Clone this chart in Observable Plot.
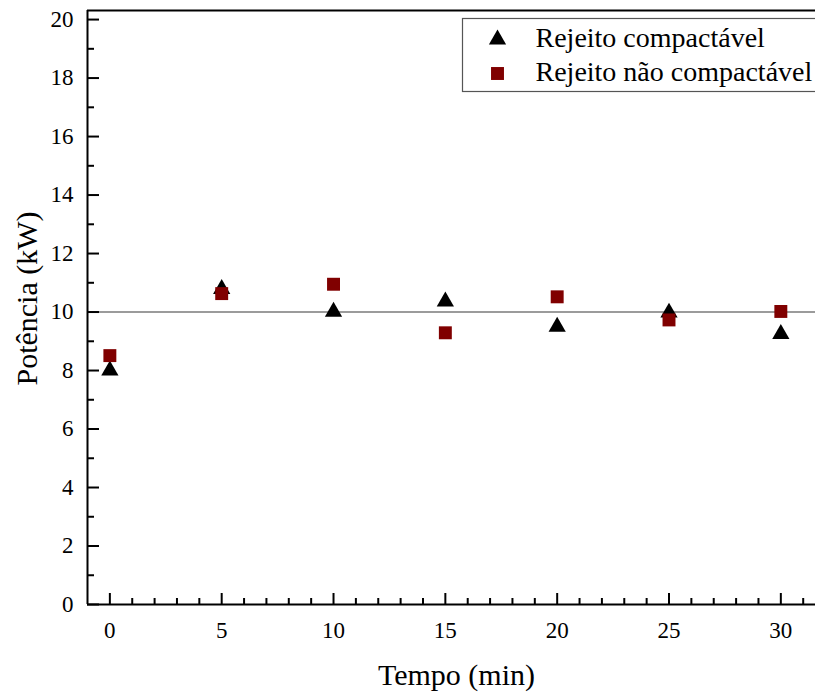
<!DOCTYPE html>
<html>
<head>
<meta charset="utf-8">
<script src="https://cdn.jsdelivr.net/npm/d3@7"></script>
<script src="https://cdn.jsdelivr.net/npm/@observablehq/plot@0.6"></script>
<style>
  html, body { margin: 0; padding: 0; background: #fff; }
  #chart svg { display: block; font-family: "Liberation Serif", "Times New Roman", serif; }
  #chart svg text { font-family: "Liberation Serif", "Times New Roman", serif; }
</style>
</head>
<body>
<div id="chart"></div>
<script>
const tempo = [0, 5, 10, 15, 20, 25, 30];
const compactavel = [8.0, 10.79, 10.01, 10.36, 9.50, 9.98, 9.25];
const naoCompactavel = [8.51, 10.63, 10.95, 9.29, 10.52, 9.73, 10.02];
const seriesNames = ["Rejeito compactável", "Rejeito não compactável"];
const xMajor = [0, 5, 10, 15, 20, 25, 30];
const xMinor = [1, 2, 3, 4, 6, 7, 8, 9, 11, 12, 13, 14, 16, 17, 18, 19, 21, 22, 23, 24, 26, 27, 28, 29, 31];
const yMajor = [0, 2, 4, 6, 8, 10, 12, 14, 16, 18, 20];
const yMinor = [1, 3, 5, 7, 9, 11, 13, 15, 17, 19];
const xDomain = [-1, 31.55];
const yDomain = [0, 20.31];
const referenceValue = [10];
const xTitle = "Tempo (min)";
const yTitle = "Potência (kW)";

const W = 815, H = 692;
const mL = 87, mR = 0, mT = 10, mB = 88;
const pw = W - mL - mR, ph = H - mT - mB;
const FONT = "Liberation Serif, Times New Roman, serif";

const dataA = tempo.map((t, i) => ({t, v: compactavel[i]}));
const dataB = tempo.map((t, i) => ({t, v: naoCompactavel[i]}));

const red = "#800000";

const chart = Plot.plot({
  width: W, height: H,
  marginLeft: mL, marginRight: mR, marginTop: mT, marginBottom: mB,
  style: {fontFamily: FONT, background: "#fff", color: "#000"},
  x: {domain: xDomain, axis: null},
  y: {domain: yDomain, axis: null},
  marks: [
    // reference line
    Plot.ruleY(referenceValue, {stroke: "#7a7a7a", strokeWidth: 1.6}),
    // frame lines
    Plot.ruleX([xDomain[0]], {stroke: "#000", strokeWidth: 2}),
    Plot.ruleY([yDomain[0]], {stroke: "#000", strokeWidth: 2}),
    Plot.ruleY([yDomain[1]], {stroke: "#000", strokeWidth: 2}),
    // inward ticks
    Plot.tickX(xMajor, {x: d => d, insetTop: ph - 11, stroke: "#000", strokeWidth: 2}),
    Plot.tickX(xMinor, {x: d => d, insetTop: ph - 6, stroke: "#000", strokeWidth: 2}),
    Plot.tickY(yMajor, {y: d => d, insetRight: pw - 12, stroke: "#000", strokeWidth: 2}),
    Plot.tickY(yMinor, {y: d => d, insetRight: pw - 7, stroke: "#000", strokeWidth: 2}),
    // tick labels
    Plot.text(xMajor, {x: d => d, frameAnchor: "bottom", lineAnchor: "middle", dy: 26, text: d => String(d), fontSize: 23, fontFamily: FONT, fill: "#000"}),
    Plot.text(yMajor, {y: d => d, frameAnchor: "left", lineAnchor: "middle", dx: -14, textAnchor: "end", text: d => String(d), fontSize: 23, fontFamily: FONT, fill: "#000"}),
    // axis titles
    Plot.text([xTitle], {frameAnchor: "bottom", lineAnchor: "middle", textAnchor: "middle", dx: 5, dy: 71, text: d => d, fontSize: 30, fontFamily: FONT, fill: "#000"}),
    Plot.text([yTitle], {frameAnchor: "left", lineAnchor: "middle", textAnchor: "middle", dx: -60, dy: -9, rotate: -90, text: d => d, fontSize: 30, fontFamily: FONT, fill: "#000"}),
    // data
    Plot.dot(dataA, {x: "t", y: "v", symbol: "triangle", r: 6.4, fill: "#000", stroke: "none"}),
    Plot.dot(dataB, {x: "t", y: "v", symbol: "square", r: 7.3, fill: red, stroke: "none"}),
    // legend
    Plot.frame({stroke: "#555", strokeWidth: 1.2, insetLeft: 375, insetTop: 8, insetBottom: ph - 81, insetRight: -5}),
    Plot.dot([seriesNames[0]], {frameAnchor: "top-left", dx: 410, dy: 29, symbol: "triangle", r: 6.4, fill: "#000", stroke: "none"}),
    Plot.dot([seriesNames[1]], {frameAnchor: "top-left", dx: 410, dy: 63, symbol: "square", r: 7.3, fill: red, stroke: "none"}),
    Plot.text([seriesNames[0]], {frameAnchor: "top-left", lineAnchor: "middle", dx: 448, dy: 28, text: d => d, textAnchor: "start", fontSize: 28, fontFamily: FONT, fill: "#000"}),
    Plot.text([seriesNames[1]], {frameAnchor: "top-left", lineAnchor: "middle", dx: 448, dy: 62, text: d => d, textAnchor: "start", fontSize: 28, fontFamily: FONT, fill: "#000"})
  ]
});
document.getElementById("chart").appendChild(chart);
</script>
</body>
</html>
